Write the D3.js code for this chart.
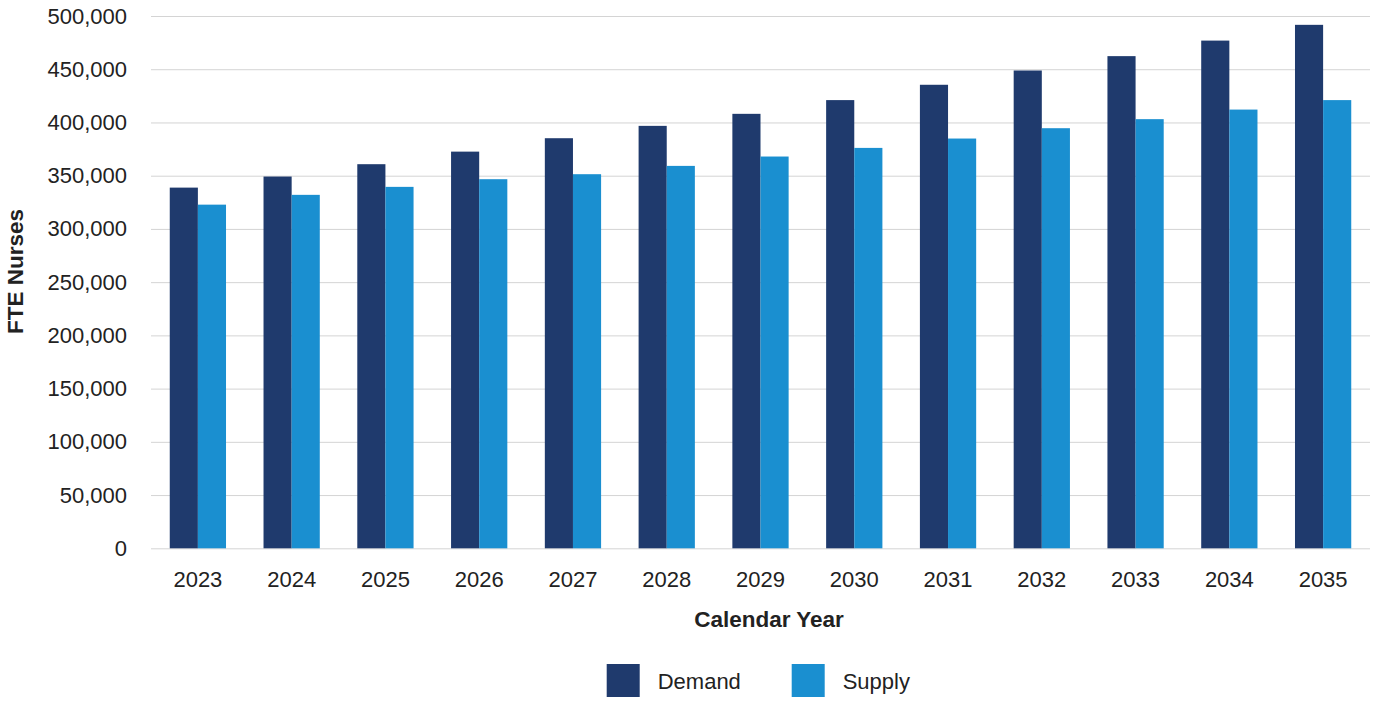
<!DOCTYPE html>
<html>
<head>
<meta charset="utf-8">
<script src="https://cdn.jsdelivr.net/npm/d3@7"></script>
<style>
  html, body { margin: 0; padding: 0; background: #fff; }
  svg { display: block; font-family: "Liberation Sans", Arial, Helvetica, sans-serif; }
</style>
</head>
<body>
<svg id="chart" width="1379" height="707"></svg>
<script>
const years = ["2023","2024","2025","2026","2027","2028","2029","2030","2031","2032","2033","2034","2035"];
const demand = [338800, 349200, 360800, 372600, 385200, 396800, 408100, 421000, 435400, 448800, 462300, 476900, 491700];
const supply = [322800, 332000, 339500, 346700, 351400, 359200, 368000, 376100, 384900, 394600, 403100, 412100, 421000];
const seriesNames = ["Demand", "Supply"];
const seriesColors = ["#1f3a6d", "#1a8fd0"];
const yTicks = [0, 50000, 100000, 150000, 200000, 250000, 300000, 350000, 400000, 450000, 500000];

(function () {
const svg = d3.select("#chart");
const mLeft = 151, mRight = 1370, mTop = 16, mBottom = 548.3;

const x = d3.scaleBand().domain(years).range([mLeft, mRight]).paddingInner(0.4).paddingOuter(0.2);
const xs = d3.scaleBand().domain(seriesNames).range([0, x.bandwidth()]).padding(0);
const y = d3.scaleLinear().domain([0, 500000]).range([mBottom, mTop]);

// gridlines + y labels
const yAxis = d3.axisLeft(y).tickValues(yTicks).tickSize(-(mRight - mLeft)).tickPadding(24)
  .tickFormat(d3.format(","));
const gy = svg.append("g").attr("transform", `translate(${mLeft},0)`).call(yAxis);
gy.select(".domain").remove();
gy.selectAll(".tick line").attr("stroke", "#d4d4d4").attr("stroke-width", 1);
gy.selectAll(".tick text").attr("fill", "#222").style("font-size", "22px");

// bars
const data = years.map((yr, i) => ({ year: yr, values: [demand[i], supply[i]] }));
const groups = svg.append("g").selectAll("g").data(data).join("g")
  .attr("transform", d => `translate(${x(d.year)},0)`);
groups.selectAll("rect").data(d => d.values.map((v, j) => ({ name: seriesNames[j], v, j })))
  .join("rect")
  .attr("x", d => xs(d.name))
  .attr("width", xs.bandwidth())
  .attr("y", d => y(d.v))
  .attr("height", d => y(0) - y(d.v))
  .attr("fill", d => seriesColors[d.j]);

// x axis
const xAxis = d3.axisBottom(x).tickSize(0).tickPadding(23);
const gx = svg.append("g").attr("transform", `translate(0,${mBottom})`).call(xAxis);
gx.select(".domain").remove();
gx.selectAll(".tick text").attr("fill", "#222").style("font-size", "22px");

// axis titles
svg.append("text").attr("x", 769).attr("y", 627).attr("text-anchor", "middle")
  .attr("fill", "#222").style("font-size", "22.5px").style("font-weight", "bold").text("Calendar Year");
svg.append("text").attr("transform", "translate(23,271.5) rotate(-90)").attr("text-anchor", "middle")
  .attr("fill", "#222").style("font-size", "22.5px").style("font-weight", "bold").text("FTE Nurses");

// legend
const legendX = [606.7, 791.7];
const lg = svg.append("g").selectAll("g").data(seriesNames).join("g")
  .attr("transform", (d, i) => `translate(${legendX[i]},664)`);
lg.append("rect").attr("width", 33).attr("height", 33).attr("fill", (d, i) => seriesColors[i]);
lg.append("text").attr("x", 51).attr("y", 25.3).attr("fill", "#222").style("font-size", "22px").text(d => d);
})();
</script>
</body>
</html>
